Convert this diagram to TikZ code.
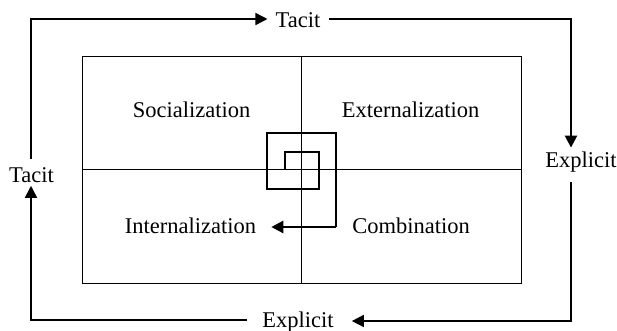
\documentclass[tikz,border=0pt]{standalone}
\usepackage{fontspec}
\setmainfont{Liberation Serif}
\usetikzlibrary{arrows.meta}
\begin{document}
\begin{tikzpicture}[x=1pt,y=-1pt,
  lbl/.style={font=\fontsize{22.5}{26}\selectfont, inner sep=0pt},
  box/.style={draw, line width=1pt},
  flow/.style={draw, line width=1.5pt, -{Triangle[length=12pt,width=12pt]}},
  thickflow/.style={flow, line width=2.4pt},
  spiral/.style={draw, line width=1.1pt}]
\useasboundingbox (0,0) rectangle (617,331);
% matrix
\draw[box] (82,57) rectangle (521,283);
\coordinate (vt) at (301,57);
\coordinate (vb) at (301,283);
\coordinate (hl) at (82,169);
\coordinate (hr) at (521,169);
\draw[box] (vt) -- (vb);
\draw[box] (hl) -- (hr);
% quadrant labels
\node[lbl] (soc) at (191.5,110) {Socialization};
\node[lbl] (ext) at (410.5,110) {Externalization};
\node[lbl] (int) at (190.5,226) {Internalization};
\node[lbl] (com) at (411,226) {Combination};
% outer labels
\node[lbl] (tacitT) at (298,20) {Tacit};
\node[lbl] (explR) at (581,162) {Explicit};
\node[lbl] (explB) at (298,322) {Explicit};
\node[lbl] (tacitL) at (31.5,175) {Tacit};
% outer cycle
\coordinate (c1) at (31,19);
\coordinate (c2) at (571,19);
\coordinate (c3) at (571,321);
\coordinate (c4) at (31,320);
\draw[flow] ([yshift=8pt]tacitL.north -| c1) -- (c1) -- ([xshift=-8pt]tacitT.west |- c1);
\draw[box, line width=1.5pt] ([xshift=8pt]tacitT.east |- c2) -- ([xshift=1pt]c2);
\draw[thickflow] ([yshift=0.7pt]c2) -- ([yshift=4pt]c2 |- explR.north);
\draw[flow] ([yshift=-10pt]c3 |- explR.south) -- (c3) -- ([xshift=18pt]explB.east |- c3);
\draw[flow] ([xshift=-15pt]explB.west |- c4) -- (c4) -- ([yshift=-3pt]tacitL.south -| c4);
% spiral
\coordinate (s0) at (285,169);
\coordinate (s1) at (285,152);
\coordinate (s2) at (319,152);
\coordinate (s3) at (319,189);
\coordinate (s4) at (267,189);
\coordinate (s5) at (267,133);
\coordinate (s6) at (336,133);
\coordinate (s7) at (336,227);
\draw[spiral] (s0) -- (s1) -- (s2) -- (s3) -- (s4) -- (s5) -- (s6) -- (s7);
\draw[thickflow] (s7) -- ([xshift=15pt]int.east |- s7);
\end{tikzpicture}
\end{document}
